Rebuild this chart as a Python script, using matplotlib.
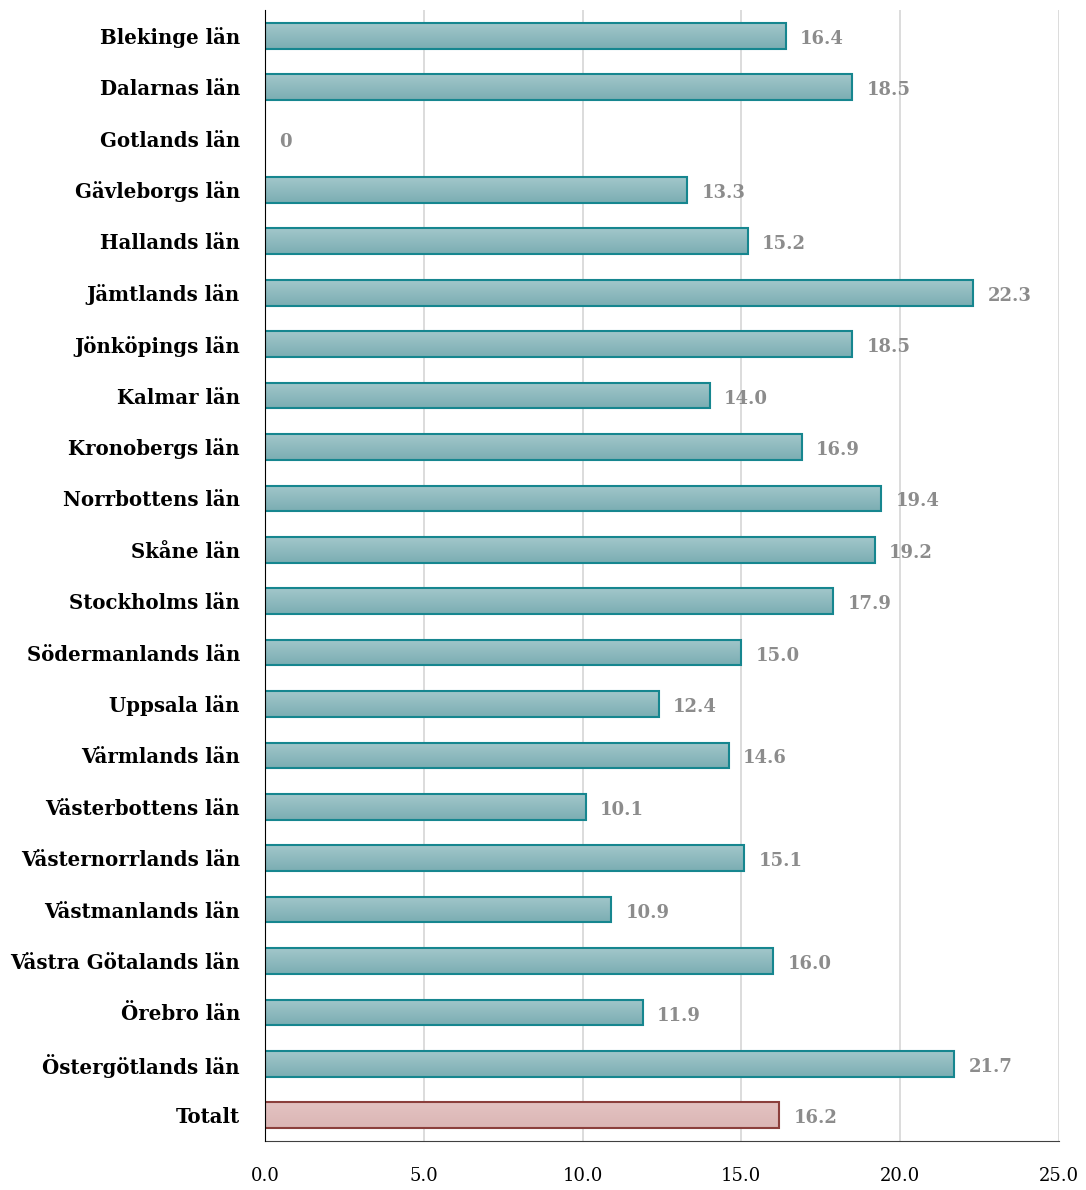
import numpy as np
import matplotlib.pyplot as plt
from matplotlib.colors import LinearSegmentedColormap

# Data
lan = ['Blekinge län', 'Dalarnas län', 'Gotlands län', 'Gävleborgs län', 'Hallands län',
       'Jämtlands län', 'Jönköpings län', 'Kalmar län', 'Kronobergs län', 'Norrbottens län',
       'Skåne län', 'Stockholms län', 'Södermanlands län', 'Uppsala län', 'Värmlands län',
       'Västerbottens län', 'Västernorrlands län', 'Västmanlands län', 'Västra Götalands län',
       'Örebro län', 'Östergötlands län', 'Totalt']
varden = [16.4, 18.5, 0, 13.3, 15.2, 22.3, 18.5, 14.0, 16.9, 19.4, 19.2, 17.9, 15.0,
          12.4, 14.6, 10.1, 15.1, 10.9, 16.0, 11.9, 21.7, 16.2]
etiketter = ['16.4', '18.5', '0', '13.3', '15.2', '22.3', '18.5', '14.0', '16.9', '19.4',
             '19.2', '17.9', '15.0', '12.4', '14.6', '10.1', '15.1', '10.9', '16.0',
             '11.9', '21.7', '16.2']
xticks = [0, 5, 10, 15, 20, 25]

plt.rcParams['font.family'] = ['DejaVu Serif']

fig = plt.figure(figsize=(10.86, 11.9), dpi=100)
ax = fig.add_axes([0.244, 0.0412, 0.731, 0.9504])

y = np.arange(len(lan))
h = 0.5

# vertical gradient for the bars
grad = np.linspace(0, 1, 50).reshape(-1, 1)
cmap_teal = LinearSegmentedColormap.from_list('t', ['#a2c7cb', '#7badb2'])
cmap_red = LinearSegmentedColormap.from_list('r', ['#e3c2c1', '#dbb6b5'])

for i, (v, name) in enumerate(zip(varden, lan)):
    totalt = name == 'Totalt'
    if v > 0:
        ax.imshow(grad, cmap=cmap_red if totalt else cmap_teal, aspect='auto',
                  extent=(0, v, y[i] + h / 2, y[i] - h / 2), zorder=2,
                  interpolation='bicubic')
        ax.barh(y[i], v, height=h, facecolor='none',
                edgecolor='#8b3f3c' if totalt else '#16868f', linewidth=1.5, zorder=3)
    ax.text(v + 0.45, y[i] + 0.06, etiketter[i], va='center', ha='left',
            fontsize=13, fontweight='bold', color='#8c8c8c')

ax.set_xlim(0, 25)
ax.set_ylim(len(lan) - 0.5, -0.5)
ax.set_yticks(y)
ax.set_yticklabels(lan, fontsize=14.2, fontweight='bold')
ax.set_xticks(xticks)
ax.set_xticklabels([f'{t:.1f}' for t in xticks], fontsize=13)
ax.tick_params(axis='y', length=0, pad=18)
ax.tick_params(axis='x', length=0, pad=19)

ax.grid(axis='x', color='#d9d9d9', linewidth=1.3, zorder=0)
ax.set_axisbelow(True)
for s in ['top', 'right']:
    ax.spines[s].set_visible(False)
ax.spines['left'].set_color('black')
ax.spines['bottom'].set_color('#404040')
ax.spines['left'].set_zorder(4)

fig.savefig('out.png', dpi=100)
